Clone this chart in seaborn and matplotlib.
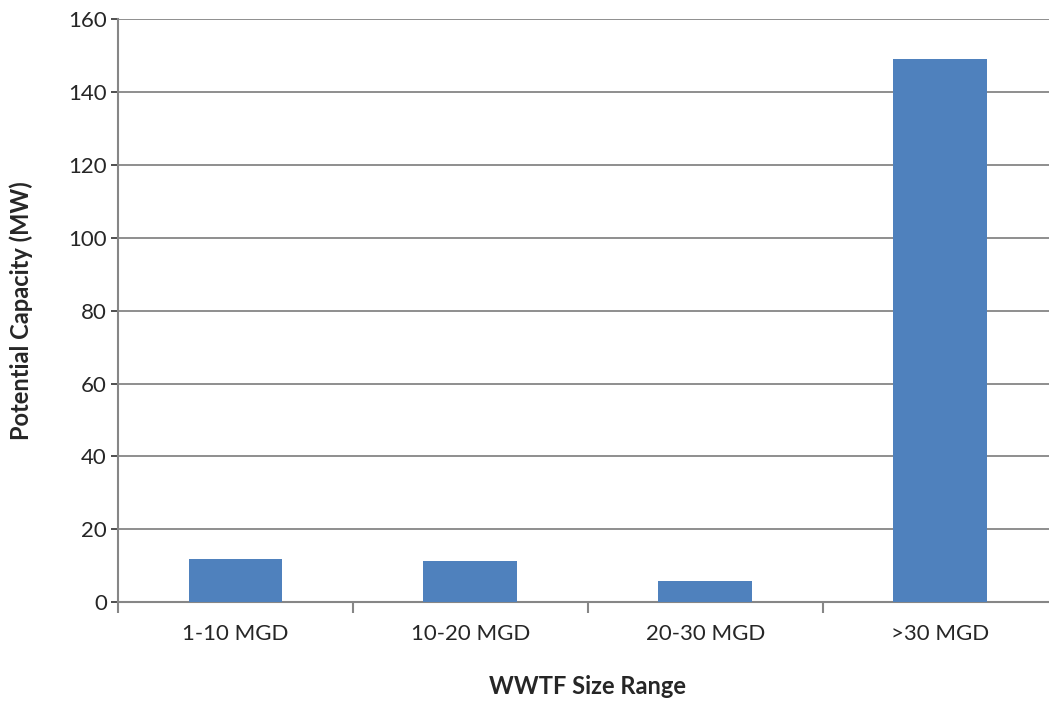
import matplotlib
matplotlib.use("Agg")
import matplotlib.pyplot as plt
import seaborn as sns
import pandas as pd

# datos
categorias = ["1-10 MGD", "10-20 MGD", "20-30 MGD", ">30 MGD"]
capacidad = [11.9, 11.3, 5.8, 149.0]
ticks_y = [0, 20, 40, 60, 80, 100, 120, 140, 160]

df = pd.DataFrame({"rango": categorias, "mw": capacidad})

sns.set_style("white")
plt.rcParams["font.family"] = ["Lato", "DejaVu Sans"]

fig = plt.figure(figsize=(10.49, 7.06), dpi=100)
# el eje se sale un poco por la derecha, como en la imagen original
ax = fig.add_axes([0.1125, 0.147, 0.896, 0.826])

sns.barplot(data=df, x="rango", y="mw", color="#4F81BD", saturation=1,
            width=0.4, edgecolor="none", linewidth=0, ax=ax, zorder=3)

ax.set_ylim(0, 160)
ax.set_xlim(-0.5, 3.5)
ax.set_yticks(ticks_y)
ax.set_yticklabels([str(t) for t in ticks_y], fontsize=16)
ax.tick_params(axis="x", which="major", labelsize=16, bottom=True, length=0, pad=16)
ax.tick_params(axis="y", left=True, length=5, width=1.3, color="#404040", pad=3)

# marcas en los limites de categoria
ax.set_xticks([-0.5, 0.5, 1.5, 2.5, 3.5], minor=True)
ax.tick_params(axis="x", which="minor", bottom=True, length=8, width=1.5,
               color="#868686", direction="out")

ax.yaxis.grid(True, color="#868686", linewidth=1.3, zorder=0)
ax.set_axisbelow(True)

for s in ["top", "right"]:
    ax.spines[s].set_visible(False)
for s in ["left", "bottom"]:
    ax.spines[s].set_color("#868686")
    ax.spines[s].set_linewidth(1.5)

ax.set_xlabel("WWTF Size Range", fontsize=17, fontweight="bold", labelpad=22)
ax.set_ylabel("Potential Capacity (MW)", fontsize=17, fontweight="bold", labelpad=25)

fig.savefig("out.png", dpi=100)
